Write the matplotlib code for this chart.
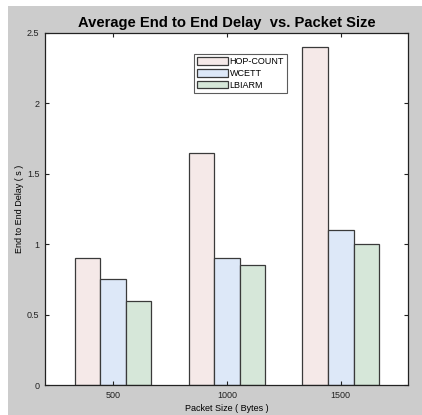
import numpy as np
import matplotlib.pyplot as plt
from matplotlib.patches import Rectangle

plt.rcParams['font.family'] = ['Liberation Sans', 'DejaVu Sans']

# packet sizes and average end-to-end delay (s) per routing metric
packet_sizes = ['500', '1000', '1500']
hop_count = [0.9, 1.65, 2.4]
wcett = [0.75, 0.9, 1.1]
lbiarm = [0.6, 0.85, 1.0]

series = [('HOP-COUNT', hop_count, '#f5e9e8'),
          ('WCETT', wcett, '#dde8f8'),
          ('LBIARM', lbiarm, '#d6e7d9')]

fig = plt.figure(figsize=(4.22, 4.15), dpi=100, facecolor='white')
# grey panel behind the axes
fig.patches.append(Rectangle((8 / 422, 0), 1, 1 - 6 / 415, transform=fig.transFigure,
                             facecolor='#cccccc', edgecolor='none', zorder=-1))

ax = fig.add_axes([45 / 422, 30 / 415, 363 / 422, 352 / 415])

x = np.arange(1, len(packet_sizes) + 1)
w = 0.224
for i, (name, vals, col) in enumerate(series):
    ax.bar(x + (i - 1) * w, vals, w, color=col, edgecolor='#3a3a3a',
           linewidth=0.9, label=name)

ax.set_xlim(0.404, 3.59)
ax.set_ylim(0, 2.5)
ax.set_xticks(x)
ax.set_xticklabels(packet_sizes)
ax.set_yticks([0, 0.5, 1, 1.5, 2, 2.5])
ax.set_yticklabels(['0', '0.5', '1', '1.5', '2', '2.5'])
ax.tick_params(direction='in', length=3, width=0.8, labelsize=6.5,
               top=True, right=True, colors='#222222', pad=4)
for s in ax.spines.values():
    s.set_linewidth(0.9)
    s.set_color('#222222')

ax.set_xlabel('Packet Size ( Bytes )', fontsize=6.5, labelpad=3)
ax.set_ylabel('End to End Delay ( s )', fontsize=6.5, labelpad=2)
ax.set_title('Average End to End Delay  vs. Packet Size', fontsize=10.6,
             fontweight='bold', pad=4)

leg = ax.legend(loc='upper left', bbox_to_anchor=(0.41, 0.94), fontsize=6.5,
                frameon=True, fancybox=False, handlelength=3.4, handleheight=0.9,
                handletextpad=0.2, labelspacing=0.3, borderpad=0.35,
                borderaxespad=0)
leg.get_frame().set_edgecolor('#333333')
leg.get_frame().set_linewidth(0.8)

fig.savefig('out.png', dpi=100, facecolor=fig.get_facecolor())
